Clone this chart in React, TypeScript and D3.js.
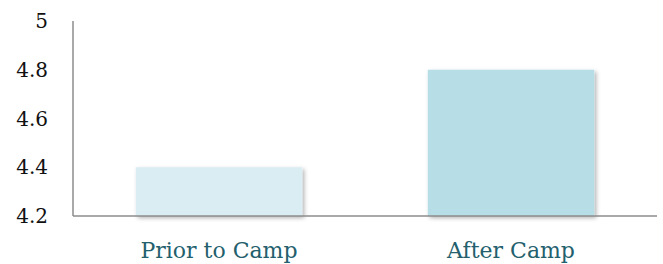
import React from 'react';
import * as d3 from 'd3';

const categories = ['Prior to Camp', 'After Camp'];
const values = [4.4, 4.8];
const barColors = ['#daedf3', '#b7dde7'];
const yTicks = [4.2, 4.4, 4.6, 4.8, 5];

const width = 663;
const height = 264;
const margin = { top: 21, right: 6, bottom: 48, left: 73 };

const App = () => {
    const innerWidth = width - margin.left - margin.right;
    const innerHeight = height - margin.top - margin.bottom;

    const xScale = d3.scaleBand().domain(categories).range([0, innerWidth]);
    const yScale = d3.scaleLinear().domain([4.2, 5]).range([innerHeight, 0]);

    const barWidth = xScale.bandwidth() * 0.57;
    const font = '"DejaVu Serif", serif';

    return (
        <svg width={width} height={height} style={{ position: 'absolute', left: 0, top: 0 }}>
            <defs>
                <filter id="shadow" x="-10%" y="-10%" width="130%" height="130%">
                    <feDropShadow dx="2" dy="2" stdDeviation="2" floodColor="#000" floodOpacity="0.3" />
                </filter>
            </defs>
            <g transform={`translate(${margin.left}, ${margin.top})`}>
                {categories.map((c, i) => {
                    const x = xScale(c)! + (xScale.bandwidth() - barWidth) / 2;
                    return (
                        <rect
                            key={c}
                            x={x}
                            y={yScale(values[i])}
                            width={barWidth}
                            height={innerHeight - yScale(values[i])}
                            fill={barColors[i]}
                            filter="url(#shadow)"
                        />
                    );
                })}
                {/* axes */}
                <line x1={0} x2={0} y1={0} y2={innerHeight} stroke="#8c8c8c" strokeWidth={1.5} />
                <line x1={0} x2={innerWidth} y1={innerHeight} y2={innerHeight} stroke="#8c8c8c" strokeWidth={1.5} />
                {yTicks.map((t) => (
                    <text
                        key={t}
                        x={-25}
                        y={yScale(t)}
                        dy="0.35em"
                        textAnchor="end"
                        fontFamily={font}
                        fontSize={20}
                        fill="#111"
                    >
                        {t}
                    </text>
                ))}
                {categories.map((c) => (
                    <text
                        key={c}
                        x={xScale(c)! + xScale.bandwidth() / 2}
                        y={innerHeight + 42}
                        textAnchor="middle"
                        fontFamily={font}
                        fontSize={22}
                        fill="#245f6d"
                    >
                        {c}
                    </text>
                ))}
            </g>
        </svg>
    );
};

export default App;
